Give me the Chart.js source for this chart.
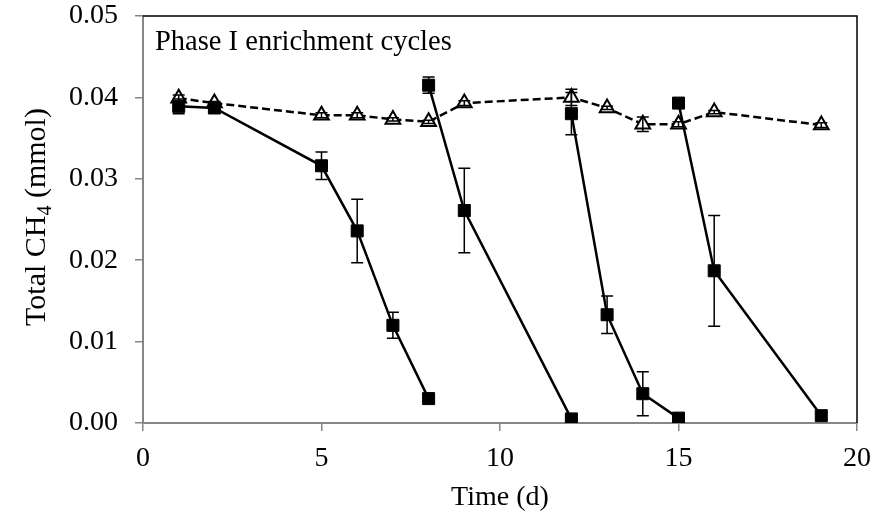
<!DOCTYPE html>
<html lang="en">
    <head>
        <meta charset="utf-8" />
        <title>Phase I enrichment cycles</title>
        <style>
            html, body { margin: 0; padding: 0; background: #fff; }
        </style>
    </head>
    <body>
        <canvas id="ch4" width="875" height="518"></canvas>
        <script src="https://cdn.jsdelivr.net/npm/chart.js@4.4.0/dist/chart.umd.min.js"></script>
        <script>
            // enrichment cycles (solid, filled squares)
            var days1 = [1, 2, 5, 6, 7, 8];
            var ch4_1 = [0.0389, 0.0387, 0.0316, 0.0236, 0.0120, 0.0030];
            var err1 = [0.0009, 0.0003, 0.0017, 0.0039, 0.0016, 0.0005];

            var days2 = [8, 9, 12];
            var ch4_2 = [0.0415, 0.0261, 0.0005];
            var err2 = [0.0010, 0.0052, 0.0002];

            var days3 = [12, 13, 14, 15];
            var ch4_3 = [0.0380, 0.0133, 0.0036, 0.0006];
            var err3 = [0.0026, 0.0023, 0.0027, 0.0002];

            var days4 = [15, 16, 19];
            var ch4_4 = [0.0393, 0.0187, 0.0009];
            var err4 = [0.0004, 0.0068, 0.0004];

            // control (dashed, open triangles)
            var daysCtrl = [1, 2, 5, 6, 7, 8, 9, 12, 13, 14, 15, 16, 19];
            var ch4Ctrl = [0.0399, 0.0393, 0.0378, 0.0378, 0.0373, 0.0370, 0.0393, 0.0400, 0.0387, 0.0367, 0.0367, 0.0382, 0.0366];
            var errCtrl = [0.0004, 0.0002, 0.0003, 0.0003, 0.0002, 0.0002, 0.0003, 0.0010, 0.0002, 0.0009, 0.0003, 0.0002, 0.0003];

            var xTicks = [0, 5, 10, 15, 20];
            var yTicks = [0, 0.01, 0.02, 0.03, 0.04, 0.05];

            var serif = "'Liberation Serif', 'Times New Roman', serif";

            function pts(xs, ys) {
                return xs.map(function (x, i) { return { x: x, y: ys[i] }; });
            }

            function cycle(xs, ys, errs) {
                return {
                    data: pts(xs, ys),
                    errors: errs,
                    borderColor: "#000",
                    backgroundColor: "#000",
                    borderWidth: 2.5,
                    pointStyle: "rect",
                    pointRadius: 8.5,
                    pointBorderWidth: 1,
                    pointBackgroundColor: "#000",
                    pointBorderColor: "#000",
                    tension: 0
                };
            }

            var errorBars = {
                id: "errorBars",
                afterDatasetsDraw: function (chart) {
                    var ctx = chart.ctx;
                    var xs = chart.scales.x, ys = chart.scales.y;
                    ctx.save();
                    ctx.strokeStyle = "#000";
                    ctx.lineWidth = 1.5;
                    chart.data.datasets.forEach(function (ds) {
                        ds.data.forEach(function (p, i) {
                            var e = ds.errors[i];
                            var px = xs.getPixelForValue(p.x);
                            var top = ys.getPixelForValue(p.y + e);
                            var bot = ys.getPixelForValue(p.y - e);
                            ctx.beginPath();
                            ctx.moveTo(px, top); ctx.lineTo(px, bot);
                            ctx.moveTo(px - 6, top); ctx.lineTo(px + 6, top);
                            ctx.moveTo(px - 6, bot); ctx.lineTo(px + 6, bot);
                            ctx.stroke();
                        });
                    });
                    ctx.restore();
                }
            };

            var texts = {
                id: "texts",
                afterDraw: function (chart) {
                    var ctx = chart.ctx;
                    var a = chart.chartArea;
                    ctx.save();
                    // frame top/right
                    ctx.strokeStyle = "#000";
                    ctx.lineWidth = 1.5;
                    ctx.beginPath();
                    ctx.moveTo(a.left, a.top); ctx.lineTo(a.right, a.top); ctx.lineTo(a.right, a.bottom);
                    ctx.stroke();

                    ctx.fillStyle = "#000";
                    ctx.font = "28.5px " + serif;
                    ctx.textBaseline = "alphabetic";
                    ctx.textAlign = "left";
                    ctx.fillText("Phase I enrichment cycles", a.left + 12, 50);

                    ctx.font = "28px " + serif;
                    ctx.textAlign = "center";
                    ctx.fillText("Time (d)", (a.left + a.right) / 2, 505);

                    // y title with subscript
                    ctx.translate(45, 217);
                    ctx.rotate(-Math.PI / 2);
                    var big = "30px " + serif, small = "20px " + serif;
                    ctx.font = big;
                    var w1 = ctx.measureText("Total CH").width;
                    var w3 = ctx.measureText(" (mmol)").width;
                    ctx.font = small;
                    var w2 = ctx.measureText("4").width;
                    var x0 = -(w1 + w2 + w3) / 2;
                    ctx.textAlign = "left";
                    ctx.font = big;
                    ctx.fillText("Total CH", x0, 0);
                    ctx.font = small;
                    ctx.fillText("4", x0 + w1, 6);
                    ctx.font = big;
                    ctx.fillText(" (mmol)", x0 + w1 + w2, 0);
                    ctx.restore();
                }
            };

            new Chart(document.getElementById("ch4").getContext("2d"), {
                type: "line",
                data: {
                    datasets: [
                        cycle(days1, ch4_1, err1),
                        cycle(days2, ch4_2, err2),
                        cycle(days3, ch4_3, err3),
                        cycle(days4, ch4_4, err4),
                        {
                            data: pts(daysCtrl, ch4Ctrl),
                            errors: errCtrl,
                            borderColor: "#000",
                            borderWidth: 2.5,
                            borderDash: [8, 4],
                            pointStyle: "triangle",
                            pointRadius: 8.5,
                            pointBorderWidth: 2,
                            pointBackgroundColor: "#fff",
                            pointBorderColor: "#000",
                            tension: 0
                        }
                    ]
                },
                options: {
                    responsive: false,
                    animation: false,
                    layout: { padding: { left: 0, top: 16, right: 18, bottom: 0 } },
                    plugins: {
                        legend: { display: false },
                        tooltip: { enabled: false }
                    },
                    scales: {
                        x: {
                            type: "linear",
                            min: 0,
                            max: 20,
                            afterBuildTicks: function (s) { s.ticks = xTicks.map(function (v) { return { value: v }; }); },
                            afterFit: function (s) { s.height = 95; s.paddingLeft = 0; s.paddingRight = 0; },
                            border: { color: "#868686", width: 2 },
                            grid: { drawOnChartArea: false, tickLength: 8, color: "#868686", lineWidth: 1.5 },
                            ticks: { color: "#000", padding: 11, maxRotation: 0, font: { family: serif, size: 28 } }
                        },
                        y: {
                            min: 0,
                            max: 0.05,
                            afterBuildTicks: function (s) { s.ticks = yTicks.map(function (v) { return { value: v }; }); },
                            afterFit: function (s) { s.width = 143; s.paddingTop = 0; s.paddingBottom = 0; },
                            border: { color: "#868686", width: 2 },
                            grid: { drawOnChartArea: false, tickLength: 8, color: "#868686", lineWidth: 1.5 },
                            ticks: {
                                color: "#000",
                                padding: 17,
                                font: { family: serif, size: 28 },
                                callback: function (v) { return v.toFixed(2); }
                            }
                        }
                    }
                },
                plugins: [errorBars, texts]
            });
        </script>
    </body>
</html>
